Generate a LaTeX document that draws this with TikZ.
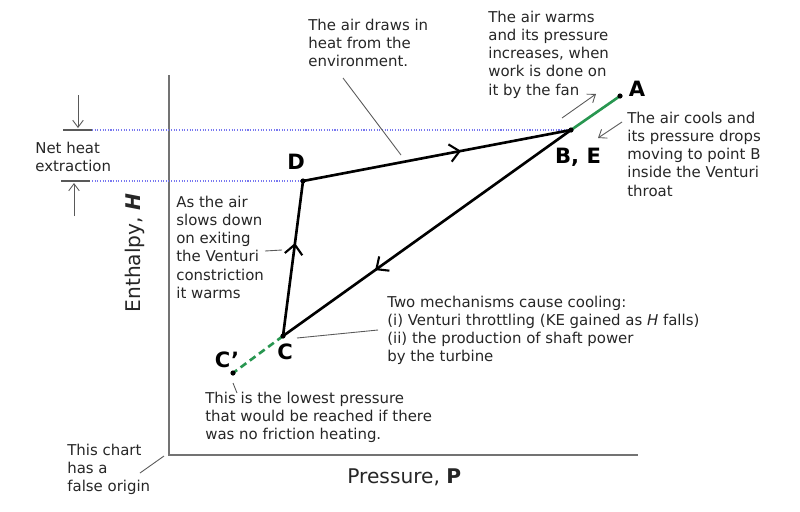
\documentclass[tikz,border=0pt]{standalone}
\usepackage{fontspec}
\setmainfont{DejaVu Sans}
\usetikzlibrary{arrows.meta,decorations.markings}

\definecolor{heatblue}{RGB}{120,120,240}
\definecolor{fangreen}{RGB}{40,150,80}

\begin{document}
\begin{tikzpicture}[x=0.02cm,y=-0.02cm,
  note/.style={align=left,inner sep=0pt,anchor=north west,
               font=\fontsize{8.5}{10.3}\selectfont,text=black!85},
  ptlabel/.style={inner sep=0pt,font=\fontsize{12}{13}\selectfont\bfseries},
  axislabel/.style={inner sep=0pt,font=\fontsize{11.5}{13}\selectfont,text=black!85},
  cycle/.style={line width=1.5pt,line cap=round},
  midarrow/.style={postaction={decorate},
      decoration={markings,mark=at position #1 with {\arrow{Straight Barb[length=5.5pt,width=10pt,line width=1.2pt]}}}},
  lead/.style={draw=black!65,line width=0.5pt},
  leadarrow/.style={lead,-{Straight Barb[length=4pt,width=6pt]}},
  level/.style={heatblue,line width=0.8pt,dash pattern=on 0.6pt off 0.9pt},
  axis/.style={draw=black!55,line width=1.2pt}]

\useasboundingbox (0,0) rectangle (800,511);

% points of the cycle
\coordinate (A) at (620,96);
\coordinate (B) at (571,130);
\coordinate (D) at (303,181);
\coordinate (C) at (283,336);
\coordinate (Cp) at (233,373);

% axes
\coordinate (ytop) at (169,75);
\coordinate (O) at (169,455);
\coordinate (xend) at (638,455);
\draw[axis] (ytop) -- (O) -- (xend);

% enthalpy levels
\coordinate (hi) at (92,130);
\coordinate (lo) at (92,181);
\draw[level] (hi) -- (B);
\draw[level] (lo) -- (D);

% net heat extraction marker
\draw[lead,line width=1pt] (63,130) -- (hi);
\draw[lead,line width=1pt] (61,181) -- (90,181);
\coordinate (t1) at (78,95);
\coordinate (t2) at (78,128);
\coordinate (b1) at (74,216);
\coordinate (b2) at (74,183);
\draw[leadarrow] (t1) -- (t2);
\draw[leadarrow] (b1) -- (b2);

% the cycle
\draw[cycle,midarrow=0.59] (D) -- (B);
\draw[cycle,midarrow=0.68] (B) -- (C);
\draw[cycle,midarrow=0.6] (C) -- (D);
\draw[fangreen,line width=1.5pt] (B) -- (A);
\draw[fangreen,line width=1.5pt,dashed,dash pattern=on 4pt off 2.5pt] (C) -- (Cp);
\foreach \p in {A,B,D,C,Cp}{
       \fill (\p) circle [radius=2.6];
}

% point labels
\node[ptlabel] (lA) at (637,89) {A};
\node[ptlabel] (lB) at (578,157) {B, E};
\node[ptlabel] (lD) at (296,162) {D};
\node[ptlabel] (lC) at (285,352) {C};
\node[ptlabel] (lCp) at (227,360) {C\char"2019};

% axis labels
\node[axislabel,rotate=90] (yl) at (135,253) {Enthalpy, \textbf{\textit{H}}};
\node[axislabel,anchor=north west] (xl) at (347,468) {Pressure, \textbf{P}};

% notes
\node[note] (nNet) at (35,142) {Net heat\\extraction};
\node[note] (nDraw) at (308,19) {The air draws in\\heat from the\\environment.};
\node[note] (nFan) at (488,11) {The air warms\\and its pressure\\increases, when\\work is done on\\it by the fan};
\node[note] (nCool) at (627,112) {The air cools and\\its pressure drops\\moving to point B\\inside the Venturi\\throat};
\node[note] (nSlow) at (176,196) {As the air\\slows down\\on exiting\\the Venturi\\constriction\\it warms};
\node[note] (nTwo) at (387,296) {Two mechanisms cause cooling:\\(i) Venturi throttling (KE gained as \textit{H} falls)\\(ii) the production of shaft power\\by the turbine};
\node[note] (nLow) at (205,392) {This is the lowest pressure\\that would be reached if there\\was no friction heating.};
\node[note] (nOrig) at (67,444) {This chart\\has a\\false origin};

% leaders
\coordinate (d1) at (343,78);
\coordinate (d2) at (401,155);
\draw[lead] (d1) -- (d2);
\coordinate (f1) at (562,118);
\coordinate (f2) at (596,94);
\draw[leadarrow] (f1) -- (f2);
\coordinate (c1) at (622,122);
\coordinate (c2) at (598,138);
\draw[leadarrow] (c1) -- (c2);
\coordinate (s1) at (265,251);
\coordinate (s2) at (282,250);
\draw[lead] (s1) -- (s2);
\coordinate (m1) at (297,338);
\coordinate (m2) at (378,330);
\draw[lead] (m1) -- (m2);
\coordinate (l1) at (233,383);
\coordinate (l2) at (237,393);
\draw[lead] (l1) -- (l2);
\coordinate (o1) at (140,473);
\coordinate (o2) at (164,456);
\draw[lead] (o1) -- (o2);

\end{tikzpicture}
\end{document}
